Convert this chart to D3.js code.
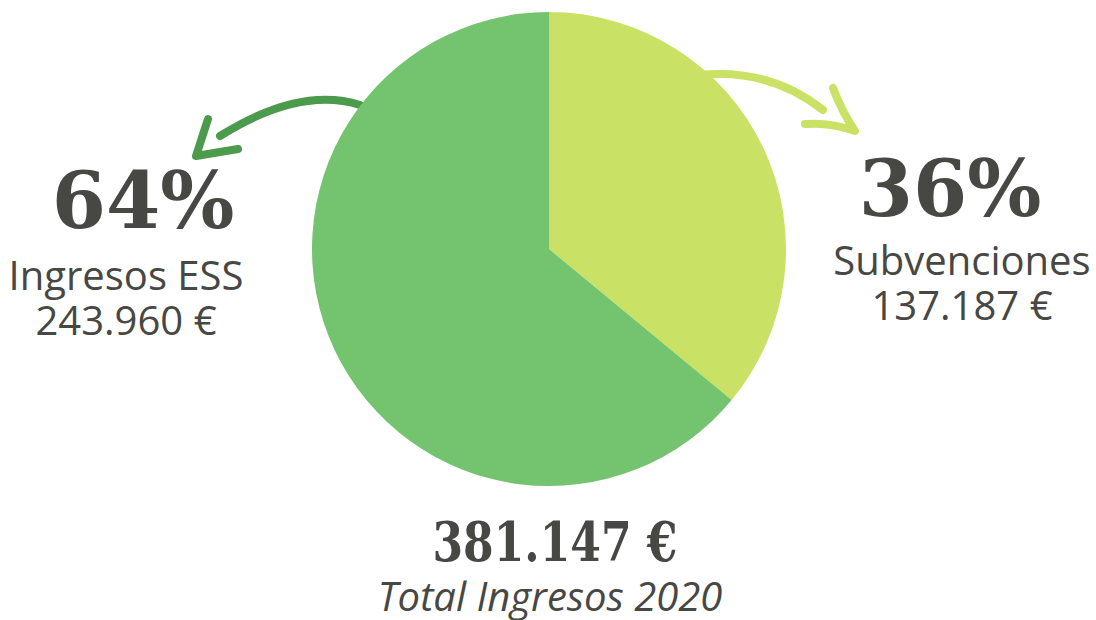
<!DOCTYPE html>
<html lang="es">
<head>
<meta charset="utf-8">
<script src="https://d3js.org/d3.v7.min.js"></script>
<style>
body { margin: 0; background: #fff; }
.num { font-family: "DejaVu Serif", serif; font-weight: bold; fill: #474743; }
.lbl { font-family: "Open Sans", sans-serif; fill: #474743; }
</style>
</head>
<body>
<script>
// data
var labels = ["Subvenciones", "Ingresos ESS"];
var values = [137187, 243960];
var colors = ["#c9e265", "#74c46f"];
var totalLabel = "Total Ingresos 2020";

var width = 1096, height = 620;
var cx = 549, cy = 249, radius = 237;

var fmt = function(v) { return d3.format(",")(v).replace(/,/g, ".") + " €"; };
var total = d3.sum(values);

var svg = d3.select("body").append("svg")
    .attr("width", width)
    .attr("height", height);

// arrows
svg.append("path")
    .attr("d", "M360,105 Q300,86 220,136 M208,119 L196,156 L238,149")
    .attr("fill", "none")
    .attr("stroke", "#4c9a4c")
    .attr("stroke-width", 8)
    .attr("stroke-linecap", "round")
    .attr("stroke-linejoin", "round");

svg.append("path")
    .attr("d", "M700,75 Q770,68 823,110 M833,88 Q842,112 855,131 Q830,122 805,124")
    .attr("fill", "none")
    .attr("stroke", "#c9e265")
    .attr("stroke-width", 8)
    .attr("stroke-linecap", "round")
    .attr("stroke-linejoin", "round");

// pie
var pie = d3.pie().sort(null).value(function(d) { return d; });
var arc = d3.arc().innerRadius(0).outerRadius(radius);

svg.append("g")
    .attr("transform", "translate(" + cx + "," + cy + ")")
    .selectAll("path")
    .data(pie(values))
    .enter()
    .append("path")
    .attr("d", arc)
    .attr("fill", function(d, i) { return colors[i]; });

// labels
var pct = values.map(function(v) { return Math.round(v / total * 100) + "%"; });

var blocks = [
    { i: 1, x: 143, y: 228, lx: 126, ly: 290 },
    { i: 0, x: 950, y: 216, lx: 962, ly: 275 }
];

blocks.forEach(function(b) {
    svg.append("text").attr("class", "num")
        .attr("x", b.x).attr("y", b.y)
        .attr("text-anchor", "middle")
        .style("font-size", "78px")
        .text(pct[b.i]);
    svg.append("text").attr("class", "lbl")
        .attr("x", b.lx).attr("y", b.ly)
        .attr("text-anchor", "middle")
        .style("font-size", "40px")
        .text(labels[b.i]);
    svg.append("text").attr("class", "lbl")
        .attr("x", b.lx).attr("y", b.ly + 45)
        .attr("text-anchor", "middle")
        .style("font-size", "40px")
        .text(fmt(values[b.i]));
});

svg.append("text").attr("class", "num")
    .attr("x", 555).attr("y", 561)
    .attr("text-anchor", "middle")
    .attr("textLength", 245)
    .attr("lengthAdjust", "spacingAndGlyphs")
    .style("font-size", "54px")
    .text(fmt(total));

svg.append("text").attr("class", "lbl")
    .attr("x", 550).attr("y", 611)
    .attr("text-anchor", "middle")
    .style("font-size", "40px")
    .style("font-style", "italic")
    .text(totalLabel);
</script>
</body>
</html>
